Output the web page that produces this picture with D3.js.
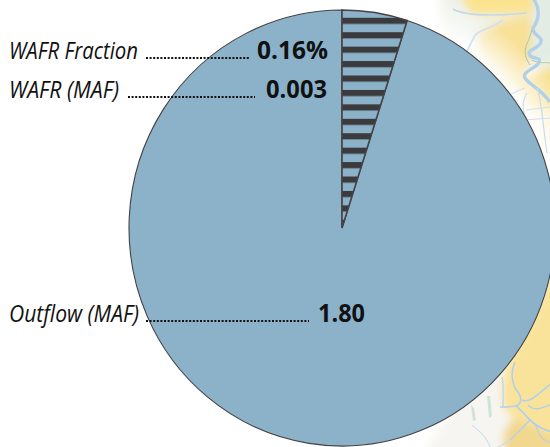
<!DOCTYPE html>
<html>
<head>
<meta charset="utf-8">
<script src="https://cdn.jsdelivr.net/npm/d3@7"></script>
<style>
  html, body { margin: 0; padding: 0; background: #fff; overflow: hidden; }
  svg { display: block; }
  text { font-family: "Open Sans", sans-serif; fill: #111; }
</style>
</head>
<body>
<svg width="550" height="447"></svg>
<script>
// slice shares as drawn in the picture, wedge first (clockwise from 12 o'clock)
const sliceNames = ["WAFR", "Outflow"];
const sliceShares = [4.95, 95.05];

const labelNames = ["WAFR Fraction", "WAFR (MAF)", "Outflow (MAF)"];
const labelValues = ["0.16%", "0.003", "1.80"];

const cx = 342;
const cy = 228;
const radius = 213;
const squash = 218 / 213; // the pie in the picture is a little taller than wide

//where each label row sits
const rows = [
  { y: 59, nameEnd: 138, dotsFrom: 146, dotsTo: 250, valueFrom: 257, valueTo: 328 },
  { y: 98, nameEnd: 119, dotsFrom: 128, dotsTo: 255, valueFrom: 266, valueTo: 327 },
  { y: 322, nameEnd: 139, dotsFrom: 146, dotsTo: 309, valueFrom: 318, valueTo: 365 }
];

const svg = d3.select("svg");
const defs = svg.append("defs");

//stripes for the wedge
const stripes = defs.append("pattern")
  .attr("id", "stripes")
  .attr("patternUnits", "userSpaceOnUse")
  .attr("x", 0).attr("y", -205.4)
  .attr("width", 10).attr("height", 14.1);
stripes.append("rect").attr("width", 10).attr("height", 14.1).attr("fill", "#8bb2c9");
stripes.append("rect").attr("width", 10).attr("height", 6).attr("fill", "#3b3a3c");

defs.append("filter").attr("id", "soft").append("feGaussianBlur").attr("stdDeviation", 4);

//white halo that fades the map out around the top of the pie
const halo = defs.append("radialGradient")
  .attr("id", "halo")
  .attr("gradientUnits", "userSpaceOnUse")
  .attr("cx", cx).attr("cy", cy).attr("r", 255);
halo.append("stop").attr("offset", 0.84).attr("stop-color", "#fff");
halo.append("stop").attr("offset", 1).attr("stop-color", "#fff").attr("stop-opacity", 0);

const map = svg.append("g");
const land = map.append("g").attr("filter", "url(#soft)");
const patches = [
  ["M440,-10 L560,-10 L560,70 L520,70 L500,60 L440,30 Z", "#eef1e8"],
  ["M457,-10 L534,-10 L534,13 L500,15 L470,14 Z", "#fbe38f"],
  ["M478,32 L505,20 L530,15 L538,40 L525,75 L530,95 L480,90 Z", "#f8e096"],
  ["M536,-10 L560,-10 L560,62 L530,62 Z", "#e2ece5"],
  ["M525,78 L560,62 L560,120 L520,120 Z", "#f8e296"],
  ["M520,110 L560,110 L560,210 L530,210 Z", "#fcefc4"],
  ["M530,210 L560,210 L560,330 L500,400 Z", "#fbecb4"],
  ["M518,345 L560,270 L560,460 L505,460 L503,433 L513,418 L502,407 L502,377 Z", "#f9e39b"],
  ["M513,418 L560,440 L560,460 L505,460 L503,433 Z", "#f2d78e"],
  ["M420,460 L460,395 L500,370 L502,407 L513,418 L503,433 L505,460 Z", "#f6f5f1"]
];
land.selectAll("path").data(patches).enter().append("path")
  .attr("d", d => d[0]).attr("fill", d => d[1]);

map.append("rect")
  .attr("x", 360).attr("y", -5).attr("width", 200).attr("height", 240)
  .attr("fill", "url(#halo)");

const rivers = [
  ["M533,-2 C540,8 540,18 533,28 C532,36 545,36 540,44 C535,50 526,50 530,56 C536,60 542,56 538,64 C532,70 522,72 525,78 C528,84 540,88 550,102", 3.4, "#b3d0ea"],
  ["M453,9 C465,16 495,16 527,13", 1.6, "#c4d9ec"],
  ["M503,20 C492,28 485,28 476,34 C472,40 470,46 467,51", 1.6, "#cfe0f0"],
  ["M525,88 C518,90 512,94 508,96", 1.1, "#cfe0f0"],
  ["M527,93 C522,100 522,108 525,118 C530,125 532,140 535,150", 1.2, "#c7dcf0"],
  ["M537,88 C542,100 542,120 547,153", 1.2, "#c7dcf0"],
  ["M526,110 L550,107", 1, "#cfe0f0"],
  ["M525,120 L550,118", 1, "#cfe0f0"],
  ["M532,30 C528,45 520,50 530,65", 1, "#a9c8a0"],
  ["M532,60 C540,64 545,62 550,63", 1, "#b5ccaa"],
  ["M502,377 C504,385 503,395 503,407", 1.6, "#c4daf0"],
  ["M515,362 C510,372 512,385 518,392 C522,398 522,403 516,406 C510,407 505,407 500,407", 1.6, "#b3d0ea"],
  ["M516,406 C524,412 528,420 535,424 C540,428 545,430 552,432", 1.8, "#b3d0ea"],
  ["M522,400 C530,404 540,392 552,383", 1.6, "#b3d0ea"],
  ["M528,405 C535,412 542,408 552,404", 1.4, "#b3d0ea"],
  ["M530,420 C522,428 515,436 510,440", 1.4, "#b3d0ea"],
  ["M535,424 C540,435 540,440 552,443", 1.2, "#b3d0ea"],
  ["M510,440 C505,444 498,446 495,450", 1, "#c4daf0"],
  ["M472,425 C480,432 486,436 490,447", 1, "#c4daf0"]
];
map.append("g").selectAll("path").data(rivers).enter().append("path")
  .attr("d", d => d[0])
  .attr("fill", "none")
  .attr("stroke", d => d[2])
  .attr("stroke-width", d => d[1]);

//pale green streaks on the grey ground
map.append("path")
  .attr("d", "M487,396 L490,396 L492,416 L489,418 Z M471,405 L474,408 L476,420 L473,421 Z")
  .attr("fill", "#cfe3d6");

//pie
const slices = d3.pie().sort(null).value(d => d)(sliceShares);
const arc = d3.arc().innerRadius(0).outerRadius(radius);
const g = svg.append("g").attr("transform", `translate(${cx},${cy}) scale(1,${squash})`);

g.selectAll("path")
  .data(slices.slice().reverse())
  .enter()
  .append("path")
    .attr("d", arc)
    .attr("fill", d => d.index === 0 ? "url(#stripes)" : "#8bb2c9")
    .attr("stroke", "#444244")
    .attr("stroke-width", d => d.index === 0 ? 1.6 : 1.1)
    .attr("vector-effect", "non-scaling-stroke");

//labels
const label = svg.append("g").selectAll("g")
  .data(labelNames)
  .enter()
  .append("g");

label.append("text")
  .attr("x", 9)
  .attr("y", (d, i) => rows[i].y)
  .attr("font-size", 24.5)
  .attr("font-style", "italic")
  .attr("textLength", (d, i) => rows[i].nameEnd - 9)
  .attr("lengthAdjust", "spacingAndGlyphs")
  .text(d => d);

label.append("line")
  .attr("x1", (d, i) => rows[i].dotsFrom)
  .attr("x2", (d, i) => rows[i].dotsTo)
  .attr("y1", (d, i) => rows[i].y - 1)
  .attr("y2", (d, i) => rows[i].y - 1)
  .attr("stroke", "#111")
  .attr("stroke-width", 2.2)
  .attr("stroke-dasharray", "2 1.6");

label.append("text")
  .attr("x", (d, i) => rows[i].valueFrom)
  .attr("y", (d, i) => rows[i].y)
  .attr("font-size", 25.5)
  .attr("font-weight", 700)
  .attr("textLength", (d, i) => rows[i].valueTo - rows[i].valueFrom)
  .attr("lengthAdjust", "spacingAndGlyphs")
  .text((d, i) => labelValues[i]);
</script>
</body>
</html>
